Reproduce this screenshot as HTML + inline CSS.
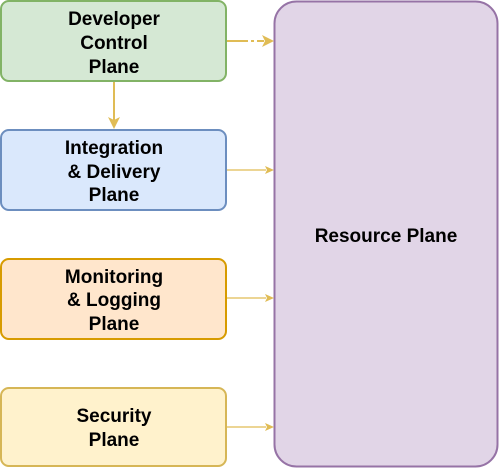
<!DOCTYPE html>
<html><head><style>
body{margin:0;width:500px;height:468px;background:#fff;overflow:hidden}
</style></head><body>
<svg width="500" height="468" xmlns="http://www.w3.org/2000/svg" font-family="Liberation Sans, sans-serif" font-weight="bold" font-size="19" text-anchor="middle">
<rect x="274.5" y="1.5" width="223" height="465" rx="22" fill="#e1d5e7" stroke="#9673a6" stroke-width="2"/>
<text x="386" y="242">Resource Plane</text>
<rect x="1" y="1" width="225" height="80" rx="8" fill="#d5e8d4" stroke="#82b366" stroke-width="2"/>
<text x="114" y="25">Developer</text><text x="114" y="49">Control</text><text x="114" y="73">Plane</text>
<rect x="1" y="130" width="225" height="80" rx="8" fill="#dae8fc" stroke="#6c8ebf" stroke-width="2"/>
<text x="114" y="154">Integration</text><text x="114" y="178">&amp; Delivery</text><text x="114" y="201">Plane</text>
<rect x="1" y="259" width="225" height="80" rx="8" fill="#ffe6cc" stroke="#d79b00" stroke-width="2"/>
<text x="114" y="283">Monitoring</text><text x="114" y="306">&amp; Logging</text><text x="114" y="330">Plane</text>
<rect x="1" y="388" width="225" height="78" rx="8" fill="#fff2cc" stroke="#d6b656" stroke-width="2"/>
<text x="114" y="422">Security</text><text x="114" y="446">Plane</text>
<g stroke="#e0bc55" fill="#e0bc55">
<line x1="227" y1="41" x2="264" y2="41" stroke-width="2" stroke-dasharray="21,3,3,3"/>
<polygon points="274,41 262,35 265,41 262,47" stroke="none"/>
<line x1="114" y1="82" x2="114" y2="120" stroke-width="2"/>
<polygon points="114,129 108,117 114,120 120,117" stroke="none"/>
<line x1="227" y1="170" x2="266" y2="170" stroke-width="1.2"/>
<polygon points="274,170 265,166 267,170 265,174" stroke="none"/>
<line x1="227" y1="298" x2="266" y2="298" stroke-width="1.2"/>
<polygon points="274,298 265,294 267,298 265,302" stroke="none"/>
<line x1="227" y1="427" x2="266" y2="427" stroke-width="1.2"/>
<polygon points="274,427 265,423 267,427 265,431" stroke="none"/>
</g>
</svg>
</body></html>
